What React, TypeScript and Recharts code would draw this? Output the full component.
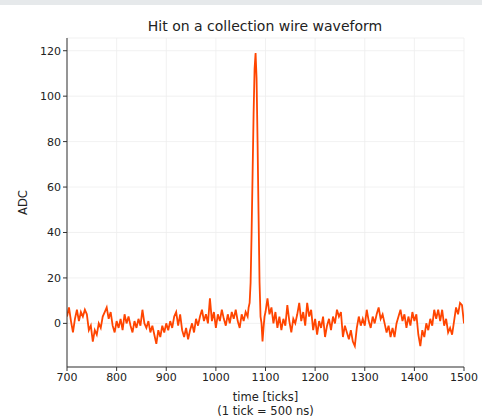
import React from "react";
import { LineChart, Line, XAxis, YAxis, CartesianGrid } from "recharts";

const times: number[] = [
  700, 704, 708, 712, 716, 720, 724, 728, 732, 736, 740, 744, 748, 752, 756, 760, 764, 768, 772, 776, 780, 784, 788, 792, 796,
  800, 804, 808, 812, 816, 820, 824, 828, 832, 836, 840, 844, 848, 852, 856, 860, 864, 868, 872, 876, 880, 884, 888, 892, 896,
  900, 904, 908, 912, 916, 920, 924, 928, 932, 936, 940, 944, 948, 952, 956, 960, 964, 968, 972, 976, 980, 984, 988, 992, 996,
  1000, 1004, 1008, 1012, 1016, 1020, 1024, 1028, 1032, 1036, 1040, 1044, 1048, 1052, 1056, 1060, 1064, 1066,
  1068, 1070, 1072, 1074, 1076, 1078, 1080, 1082, 1084, 1086, 1088, 1090, 1092, 1094, 1096, 1098,
  1100, 1104, 1108, 1112, 1116, 1120, 1124, 1128, 1132, 1136, 1140, 1144, 1148, 1152, 1156, 1160, 1164, 1168, 1172, 1176, 1180, 1184, 1188, 1192, 1196,
  1200, 1204, 1208, 1212, 1216, 1220, 1224, 1228, 1232, 1236, 1240, 1244, 1248, 1252, 1256, 1260, 1264, 1268, 1272, 1276, 1280, 1284, 1288, 1292, 1296,
  1300, 1304, 1308, 1312, 1316, 1320, 1324, 1328, 1332, 1336, 1340, 1344, 1348, 1352, 1356, 1360, 1364, 1368, 1372, 1376, 1380, 1384, 1388, 1392, 1396,
  1400, 1404, 1408, 1412, 1416, 1420, 1424, 1428, 1432, 1436, 1440, 1444, 1448, 1452, 1456, 1460, 1464, 1468, 1472, 1476, 1480, 1484, 1488, 1492, 1496, 1500,
];

const adcValues: number[] = [
  3, 7, 1, -4, 2, 6, 1, 5, 3, 6, 4, -3, -1, -8, -3, -5, 0, -2, 3, 5, 7, 2, 5, -1, -4,
  1, -2, 2, -3, 4, 0, 3, -1, -4, 1, -2, 2, -1, 6, 0, -2, 1, -4, -1, -5, -9, -3, -6, -1, -4,
  0, -3, 1, -2, 3, 5, -1, 4, -3, -6, -2, -7, -3, 0, -4, 2, -1, 3, 6, 1, 4, 0, 11, 1, 5,
  -2, 4, 1, 6, 2, -1, 4, 0, 5, 2, 6, 1, -2, 4, 1, 5, 3, 7,
  9, 18, 40, 66, 92, 112, 119, 108, 80, 48, 18, 3, 0, -8, -2, 3,
  5, 11, 4, 7, 0, 5, -2, 3, -3, 2, -1, 8, 1, -4, 2, 0, 4, 9, 1, 5, -1, 9, 3, 6, -3,
  2, -5, 1, -2, 3, -6, -1, 2, -3, 3, 0, 6, 3, 5, -6, -1, -4, -7, -3, -8, -10, -2, 3, -1, 2,
  -1, 6, 1, -2, 3, 0, 4, 7, 2, 4, 0, -4, -1, -6, -2, -6, 0, 3, 6, 1, 4, -2, 3, -1, 5,
  1, 4, -5, -10, -3, -6, 0, -3, 2, -1, 6, 2, 6, 1, 6, -1, 2, -4, -2, -5, 1, 7, 4, 9, 8, 0,
];

const xTicks: number[] = [700, 800, 900, 1000, 1100, 1200, 1300, 1400, 1500];
const yTicks: number[] = [0, 20, 40, 60, 80, 100, 120];

const data = times.map((t, i) => ({ t, adc: adcValues[i] }));

const FONT = "DejaVu Sans, sans-serif";

const XLabel = (props: any) => {
  const vb = props.viewBox || {};
  const cx = vb.x + vb.width / 2;
  const y0 = vb.y;
  return (
    <text x={cx} textAnchor="middle" fontFamily={FONT} fontSize={11.5} fill="#222">
      <tspan x={cx} y={y0 + 34}>time [ticks]</tspan>
      <tspan x={cx} y={y0 + 48}>(1 tick = 500 ns)</tspan>
    </text>
  );
};

export default function App() {
  return (
    <div style={{ position: "absolute", left: 0, top: 0, width: 482, height: 418, background: "#fff" }}>
      <div style={{ position: "absolute", left: 0, top: 0, width: 482, height: 5, background: "#e6e9eb" }} />
      <div
        style={{
          position: "absolute",
          left: 0,
          top: 17,
          width: 530,
          textAlign: "center",
          fontFamily: FONT,
          fontSize: 14,
          color: "#222",
          lineHeight: "18px",
        }}
      >
        Hit on a collection wire waveform
      </div>
      <div style={{ position: "absolute", left: 0, top: 0 }}>
        <LineChart width={482} height={418} data={data} margin={{ top: 38, right: 18, bottom: 21, left: 7 }}>
          <CartesianGrid stroke="#eeeeee" strokeWidth={0.8} vertical={true} horizontal={true} />
          <XAxis
            dataKey="t"
            type="number"
            domain={[700, 1500]}
            ticks={xTicks}
            allowDataOverflow
            height={30}
            tickSize={4}
            tickLine={{ stroke: "#333" }}
            axisLine={{ stroke: "#333" }}
            tick={{ fontFamily: FONT, fontSize: 11, fill: "#222" }}
            label={<XLabel />}
            interval={0}
          />
          <YAxis
            type="number"
            domain={[-19.2, 125.6]}
            ticks={yTicks}
            allowDataOverflow
            width={60}
            tickSize={4}
            tickLine={{ stroke: "#333" }}
            axisLine={{ stroke: "#333" }}
            tick={{ fontFamily: FONT, fontSize: 11, fill: "#222" }}
            label={{
              value: "ADC",
              angle: -90,
              position: "insideLeft",
              offset: 16,
              style: { fontFamily: FONT, fontSize: 11.5, fill: "#222", textAnchor: "middle" },
            }}
            interval={0}
          />
          <Line
            type="linear"
            dataKey="adc"
            stroke="#ff4500"
            strokeWidth={1.8}
            dot={false}
            isAnimationActive={false}
          />
        </LineChart>
      </div>
    </div>
  );
}
